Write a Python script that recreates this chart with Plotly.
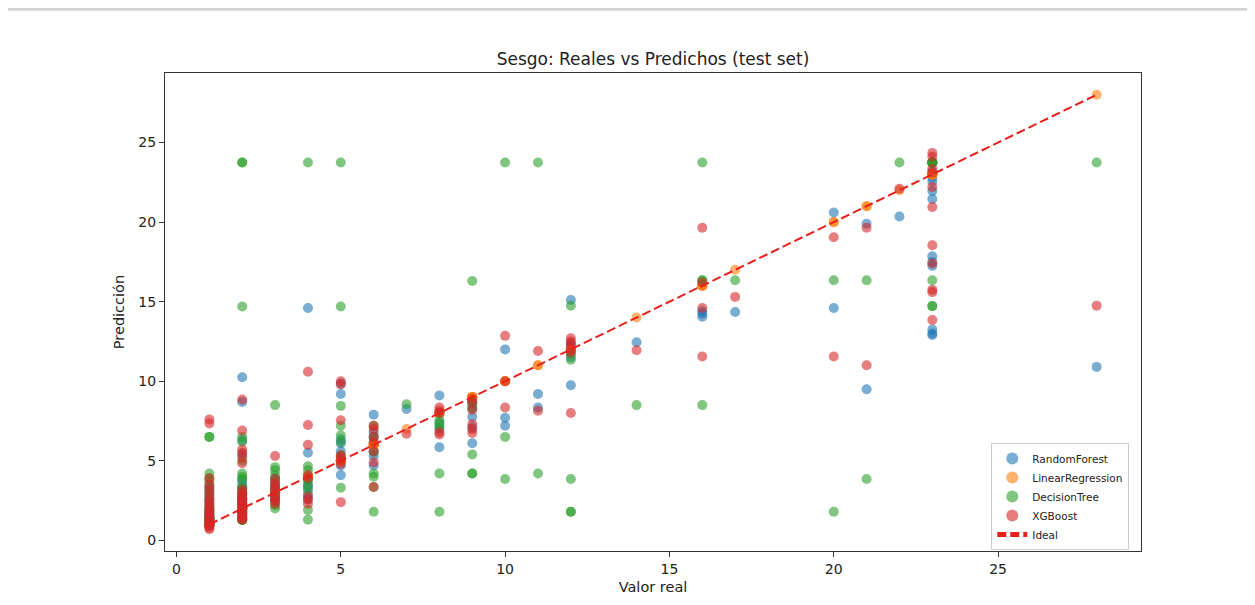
import plotly.graph_objects as go

# Distinct real values in the test set
real_values = [1, 2, 3, 4, 5, 6, 7, 8, 9, 10, 11, 12, 14, 16, 17, 20, 21, 22, 23, 28]

# Predictions grouped by real value (same order as real_values)
rf_pred = [
    [1.2, 1.5, 1.8, 2.1, 2.4, 2.8, 3.1, 1.3, 1.1, 1.4, 1.6, 1.9, 2.0, 1.2, 1.0, 1.3, 1.5, 2.6, 3.4, 1.7, 1.1, 1.4],
    [10.25, 8.7, 6.3, 5.4, 3.8, 3.55, 3.0, 2.7, 2.4, 2.2, 2.0, 1.8, 1.6, 1.5, 1.4, 2.5, 2.9, 3.3, 1.7, 2.1, 1.9, 2.3, 2.6, 1.6],
    [3.5, 3.0, 2.8, 3.2, 2.5, 3.9, 2.7, 3.3, 2.9, 3.1],
    [14.6, 5.5, 3.45, 4.0, 3.3, 2.6, 3.8, 2.9],
    [9.85, 9.2, 6.35, 4.7, 4.1, 5.6, 5.1, 6.1],
    [7.9, 5.6, 6.2, 5.3, 6.8, 4.7, 6.5],
    [8.25],
    [9.1, 5.85, 7.4, 7.0, 8.0],
    [8.6, 7.75, 6.1, 8.3, 7.1, 8.8],
    [12.0, 7.7, 7.2],
    [9.2, 8.35],
    [15.1, 9.75, 12.2, 11.9, 11.5, 12.4],
    [12.45],
    [14.25, 14.05, 16.1, 14.4],
    [14.35],
    [20.6, 14.6],
    [19.9, 9.5],
    [20.35],
    [22.55, 21.95, 21.45, 17.85, 17.25, 13.25, 13.0, 12.9, 23.2, 22.8, 17.5],
    [10.9],
]

lr_pred = [
    [1.0] * 22, [2.0] * 24, [3.0] * 10, [4.0] * 8, [5.0] * 8, [6.0] * 7, [7.0],
    [8.0] * 5, [9.0] * 6, [10.0] * 3, [11.0] * 2, [12.0] * 6, [14.0], [16.0] * 4,
    [17.0], [20.0] * 2, [21.0] * 2, [22.0], [23.0] * 11, [28.0],
]

dt_pred = [
    [6.5, 6.5, 4.2, 3.9, 3.7, 3.3, 3.0, 2.6, 1.8, 1.3, 1.3, 1.3, 1.3, 1.3, 1.3, 1.0, 1.0, 1.8, 2.2, 1.3, 1.0, 1.3],
    [23.75, 23.75, 14.7, 6.5, 6.2, 5.0, 4.2, 4.0, 3.85, 3.3, 3.0, 2.6, 2.2, 1.8, 1.3, 1.3, 1.3, 1.8, 2.2, 3.3, 1.3, 1.3, 2.6, 1.8],
    [8.5, 4.6, 4.4, 4.1, 2.0, 3.0, 3.5, 2.2, 3.8, 2.6],
    [23.75, 4.65, 4.4, 3.8, 3.15, 1.9, 1.3, 3.5],
    [23.75, 14.7, 8.45, 7.2, 6.6, 5.35, 3.3, 6.2],
    [4.2, 1.8, 5.55, 6.5, 7.2, 3.35, 4.0],
    [8.55],
    [7.6, 7.3, 7.1, 4.2, 1.8],
    [16.3, 8.7, 8.35, 5.4, 4.2, 4.2],
    [23.75, 6.5, 3.85],
    [23.75, 4.2],
    [14.75, 11.7, 11.35, 3.85, 1.8, 1.8],
    [8.5],
    [23.75, 16.35, 16.35, 8.5],
    [16.35],
    [16.35, 1.8],
    [16.35, 3.85],
    [23.75],
    [23.75, 23.75, 23.75, 23.75, 23.75, 23.75, 23.75, 16.35, 14.72, 14.72, 23.75],
    [23.75],
]

xgb_pred = [
    [7.6, 7.35, 3.9, 3.5, 3.2, 2.9, 2.6, 2.4, 2.2, 2.0, 1.85, 1.7, 1.55, 1.4, 1.3, 1.2, 1.1, 1.0, 0.95, 0.9, 0.8, 0.7],
    [8.85, 6.9, 5.7, 5.5, 5.2, 4.85, 3.2, 3.0, 2.8, 2.65, 2.5, 2.35, 2.2, 2.05, 1.95, 1.85, 1.75, 1.65, 1.55, 1.45, 1.35, 1.3, 2.9, 2.4],
    [5.3, 3.85, 3.6, 3.4, 3.2, 3.0, 2.8, 2.6, 2.45, 2.3],
    [10.6, 7.25, 6.0, 4.1, 3.9, 2.75, 2.55, 2.3],
    [10.0, 9.8, 7.55, 5.35, 5.0, 4.8, 2.4, 5.2],
    [7.2, 6.5, 6.15, 4.9, 3.35, 7.0, 5.6],
    [6.7],
    [8.35, 8.15, 8.0, 6.8, 6.65],
    [8.9, 8.65, 7.3, 7.0, 6.75, 8.2],
    [12.85, 10.0, 8.35],
    [11.9, 8.15],
    [12.7, 12.5, 12.3, 12.0, 8.0, 11.8],
    [11.95],
    [19.65, 14.6, 11.55, 16.2],
    [15.3],
    [19.05, 11.55],
    [19.65, 11.0],
    [22.1],
    [24.35, 24.1, 23.35, 23.1, 22.2, 20.95, 18.55, 17.4, 15.75, 15.6, 13.85],
    [14.75],
]

models = ["RandomForest", "LinearRegression", "DecisionTree", "XGBoost"]
colors = ["#1f77b4", "#ff7f0e", "#2ca02c", "#d62728"]
preds = [rf_pred, lr_pred, dt_pred, xgb_pred]


def flatten(groups):
    xs, ys = [], []
    for rv, g in zip(real_values, groups):
        for v in g:
            xs.append(rv)
            ys.append(v)
    return xs, ys


fig = go.Figure()
for name, col, groups in zip(models, colors, preds):
    xs, ys = flatten(groups)
    fig.add_trace(go.Scatter(
        x=xs, y=ys, mode="markers", name=name,
        marker=dict(color=col, size=10, opacity=0.6, line=dict(width=0)),
    ))

ideal = [min(real_values), max(real_values)]
fig.add_trace(go.Scatter(
    x=ideal, y=ideal, mode="lines", name="Ideal",
    line=dict(color="#e8201c", width=2, dash="9px,4px"),
))

# page body has an 8px margin: figure is placed at (8, 8)
W, H = 1247, 597
L, R, T, B = 157, W - 1133, 65, H - 545
font_family = "DejaVu Sans, sans-serif"
fig.update_layout(
    width=W, height=H,
    margin=dict(l=L, r=R, t=T, b=B),
    paper_bgcolor="white", plot_bgcolor="white",
    font=dict(family=font_family, color="#222", size=13),
    title=dict(text="Sesgo: Reales vs Predichos (test set)", x=(L + (W - R)) / 2 / W,
               xanchor="center", y=1 - 51 / H, yanchor="middle",
               font=dict(size=17, color="#222")),
    showlegend=True,
    legend=dict(x=0.988, y=0.002, xanchor="right", yanchor="bottom",
                bgcolor="rgba(255,255,255,0.85)", bordercolor="#cccccc", borderwidth=1,
                font=dict(size=10.5, color="#222"), tracegroupgap=0, itemsizing="constant"),
    shapes=[dict(type="line", xref="paper", yref="paper",
                 x0=-0.2, x1=1.2, y0=(545 - 1) / 480, y1=(545 - 1) / 480,
                 line=dict(color="#d4d4d4", width=3))],
)
fig.update_xaxes(range=[-0.35, 29.35], tickvals=[0, 5, 10, 15, 20, 25],
                 showline=True, mirror=True, linecolor="#333", linewidth=1,
                 ticks="outside", ticklen=5, tickcolor="#333", showgrid=False, zeroline=False,
                 title=dict(text="Valor real", font=dict(size=14.5), standoff=6),
                 tickfont=dict(size=14))
fig.update_yaxes(range=[-0.67, 29.37], tickvals=[0, 5, 10, 15, 20, 25],
                 showline=True, mirror=True, linecolor="#333", linewidth=1,
                 ticks="outside", ticklen=5, tickcolor="#333", showgrid=False, zeroline=False,
                 title=dict(text="Predicción", font=dict(size=14.5), standoff=10),
                 tickfont=dict(size=14))

fig.write_html("out.html")
